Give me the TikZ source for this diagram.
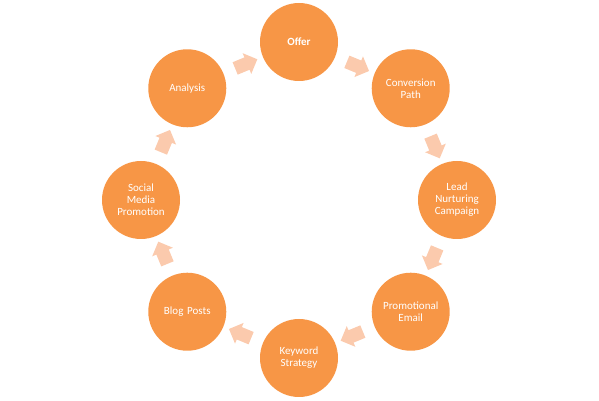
\documentclass[tikz,border=0pt]{standalone}
\usepackage{fontspec}
\setmainfont{Carlito}
\usetikzlibrary{shapes.arrows,calc}
\definecolor{circc}{HTML}{F79646}
\definecolor{arrc}{HTML}{FBCAAD}
\tikzset{
  stage/.style={circle, fill=circc, minimum size=78pt, inner sep=0pt,
    text width=68pt, align=center, text=white,
    font=\fontsize{11}{12}\selectfont},
  cyclearrow/.style={midway, sloped, allow upside down, single arrow,
    fill=arrc, minimum height=24pt, inner xsep=0pt, inner ysep=6.5pt,
    single arrow head extend=4.5pt, single arrow head indent=0pt}
}
\begin{document}
\begin{tikzpicture}[x=1pt,y=1pt]
\useasboundingbox (0,0) rectangle (599,401);
\coordinate (c) at (299,201);
\node[stage, font=\fontsize{11}{12}\selectfont\bfseries] (offer) at ($(c)+(90:158)$) {Offer};
\node[stage] (conv) at ($(c)+(45:158)$) {Conversion\\Path};
\node[stage] (lead) at ($(c)+(0:158)$) {Lead\\Nurturing\\Campaign};
\node[stage] (promo) at ($(c)+(-45:158)$) {Promotional\\Email};
\node[stage] (key) at ($(c)+(-90:158)$) {Keyword\\Strategy};
\node[stage] (blog) at ($(c)+(-135:158)$) {Blog Posts};
\node[stage] (social) at ($(c)+(180:158)$) {Social\\Media\\Promotion};
\node[stage] (anal) at ($(c)+(135:158)$) {Analysis};
\path (offer.center) -- (conv.center) node[cyclearrow] (a1) {};
\path (conv.center) -- (lead.center) node[cyclearrow] (a2) {};
\path (lead.center) -- (promo.center) node[cyclearrow] (a3) {};
\path (promo.center) -- (key.center) node[cyclearrow] (a4) {};
\path (key.center) -- (blog.center) node[cyclearrow] (a5) {};
\path (blog.center) -- (social.center) node[cyclearrow] (a6) {};
\path (social.center) -- (anal.center) node[cyclearrow] (a7) {};
\path (anal.center) -- (offer.center) node[cyclearrow] (a8) {};
\end{tikzpicture}
\end{document}
